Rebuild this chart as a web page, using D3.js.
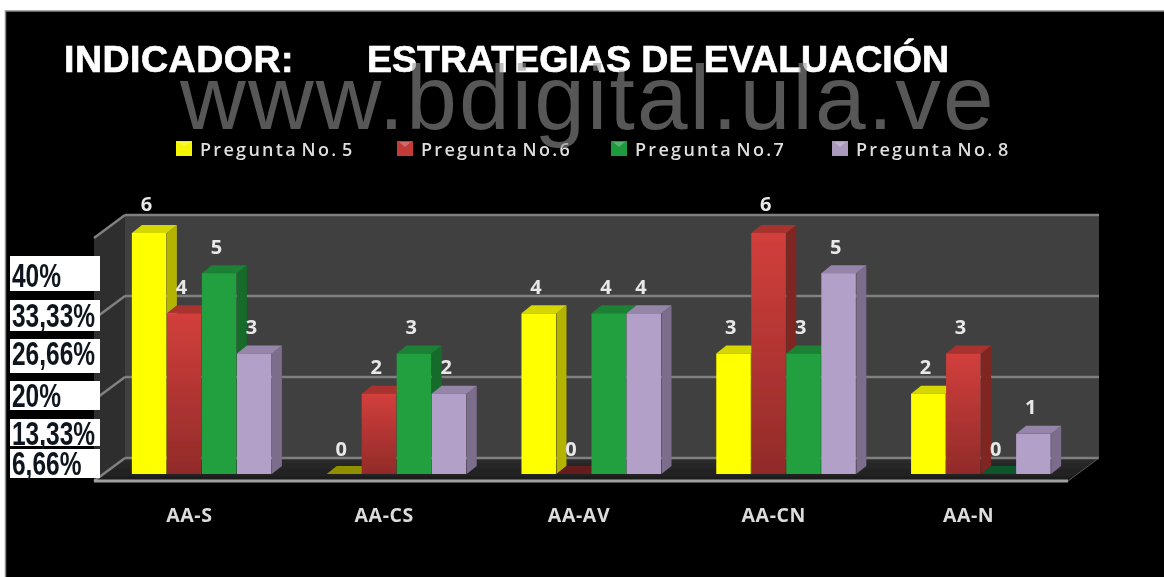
<!DOCTYPE html>
<html>
<head>
<meta charset="utf-8">
<script src="https://cdnjs.cloudflare.com/ajax/libs/d3/7.8.5/d3.min.js"></script>
<style>
html, body { margin: 0; padding: 0; background: #fff; overflow: hidden; }
svg { display: block; }
</style>
</head>
<body>
<script>
var categories = ["AA-S", "AA-CS", "AA-AV", "AA-CN", "AA-N"];
var seriesNames = ["Pregunta No. 5", "Pregunta No.6", "Pregunta No.7", "Pregunta No. 8"];
var pregunta5 = [6, 0, 4, 3, 2];
var pregunta6 = [4, 2, 0, 6, 3];
var pregunta7 = [5, 3, 4, 3, 0];
var pregunta8 = [3, 2, 4, 5, 1];
var yTicks = [0, 2, 4, 6];
var percentLabels = ["40%", "33,33%", "26,66%", "20%", "13,33%", "6,66%"];
var allSeries = [pregunta5, pregunta6, pregunta7, pregunta8];

var W = 1164, H = 577;
var svg = d3.select("body").append("svg").attr("width", W).attr("height", H);

// frame
svg.append("rect").attr("x", 5.5).attr("y", 11).attr("width", W).attr("height", H)
   .attr("fill", "#000").attr("stroke", "#8a8a8a").attr("stroke-width", 1.5);

var defs = svg.append("defs");
var blur = defs.append("filter").attr("id", "soft").attr("x", "-5%").attr("y", "-5%").attr("width", "110%").attr("height", "110%");
blur.append("feGaussianBlur").attr("stdDeviation", 0.7);

var redGrad = defs.append("linearGradient").attr("id", "redFront").attr("x1", 0).attr("y1", 0).attr("x2", 0).attr("y2", 1);
redGrad.append("stop").attr("offset", "0%").attr("stop-color", "#d23f3c");
redGrad.append("stop").attr("offset", "100%").attr("stop-color", "#912b29");
var floorGrad = defs.append("linearGradient").attr("id", "floorFill").attr("x1", 0).attr("y1", 0).attr("x2", 0).attr("y2", 1);
floorGrad.append("stop").attr("offset", "0%").attr("stop-color", "#2c2c2c");
floorGrad.append("stop").attr("offset", "100%").attr("stop-color", "#1c1c1c");

var frontColor = d3.scaleOrdinal().domain(seriesNames).range(["#ffff00", "url(#redFront)", "#21a041", "#b3a0c8"]);
var sideColor = d3.scaleOrdinal().domain(seriesNames).range(["#b3b300", "#7f2623", "#146b2b", "#7b6d8c"]);
var topColor = d3.scaleOrdinal().domain(seriesNames).range(["#d6d600", "#a8302d", "#1a8036", "#9585a8"]);
var zeroColor = d3.scaleOrdinal().domain(seriesNames).range(["#8f8f00", "#651c1b", "#11542a", "#6b5f7a"]);
var swatchColor = d3.scaleOrdinal().domain(seriesNames).range(["#f5f500", "#c23a38", "#1f9a3e", "#a898bc"]);

// y is read on the back wall, yBar on the front face of the bars
var y = d3.scaleLinear().domain([0, 6]).range([458, 215]);
var yBar = d3.scaleLinear().domain([0, 6]).range([474, 233]);
var x0 = d3.scaleBand().domain(categories).range([94, 1068]).paddingInner(0.281).paddingOuter(0.1405);
var x1 = d3.scaleBand().domain(seriesNames).range([0, x0.bandwidth()]);

var depthX = 31, depthY = 23;
var barDX = 10.5, barDepthX = 10, barDepthY = 8;

var chart = svg.append("g").attr("filter", "url(#soft)");

function poly(pts) { return pts.map(function(p) { return p.join(","); }).join(" "); }

var x = 94, xr = 1068, y0 = y(0), yTop = y(6);

// walls and floor
chart.append("polygon").attr("points", poly([[x + depthX, yTop], [xr + depthX, yTop], [xr + depthX, y0], [x + depthX, y0]])).attr("fill", "#414141");
chart.append("polygon").attr("points", poly([[x, yTop + depthY], [x + depthX, yTop], [x + depthX, y0], [x, y0 + depthY]])).attr("fill", "#2e2e2e");
chart.append("polygon").attr("points", poly([[x, y0 + depthY], [x + depthX, y0], [xr + depthX, y0], [xr, y0 + depthY]])).attr("fill", "url(#floorFill)");

// gridlines
var grid = chart.append("g").selectAll("g").data(yTicks).enter().append("g");
grid.append("line").attr("x1", x + depthX).attr("x2", xr + depthX)
    .attr("y1", function(d) { return y(d); }).attr("y2", function(d) { return y(d); })
    .attr("stroke", "#808080").attr("stroke-width", 2.5);
grid.append("line").attr("x1", x).attr("x2", x + depthX)
    .attr("y1", function(d) { return y(d) + depthY; }).attr("y2", function(d) { return y(d); })
    .attr("stroke", "#808080").attr("stroke-width", 2.5);
chart.append("line").attr("x1", x).attr("x2", xr).attr("y1", y0 + depthY).attr("y2", y0 + depthY)
     .attr("stroke", "#a0a0a0").attr("stroke-width", 3);
chart.append("line").attr("x1", xr).attr("x2", xr + depthX).attr("y1", y0 + depthY).attr("y2", y0)
     .attr("stroke", "#555").attr("stroke-width", 1);

// bars
var rows = [];
categories.forEach(function(c, ci) {
  seriesNames.forEach(function(s, si) {
    rows.push({cat: c, series: s, value: allSeries[si][ci]});
  });
});

var bars = chart.append("g").selectAll("g").data(rows).enter().append("g");

bars.each(function(d) {
  var g = d3.select(this);
  var bx = x0(d.cat) + x1(d.series) + barDX;
  var bw = x1.bandwidth();
  var base = yBar(0);
  var top = yBar(d.value);
  if (d.value === 0) {
    g.append("polygon")
     .attr("points", poly([[bx, base], [bx + barDepthX, base - barDepthY], [bx + bw + barDepthX, base - barDepthY], [bx + bw, base]]))
     .attr("fill", zeroColor(d.series));
    return;
  }
  g.append("polygon")
   .attr("points", poly([[bx + bw, top], [bx + bw + barDepthX, top - barDepthY], [bx + bw + barDepthX, base - barDepthY], [bx + bw, base]]))
   .attr("fill", sideColor(d.series));
  g.append("polygon")
   .attr("points", poly([[bx, top], [bx + barDepthX, top - barDepthY], [bx + bw + barDepthX, top - barDepthY], [bx + bw, top]]))
   .attr("fill", topColor(d.series));
  g.append("rect").attr("x", bx).attr("y", top).attr("width", bw - 0.5).attr("height", base - top)
   .attr("fill", frontColor(d.series));
});

// value labels
chart.append("g").selectAll("text").data(rows).enter().append("text")
  .attr("x", function(d) { return x0(d.cat) + x1(d.series) + barDX + x1.bandwidth() / 2 - 3; })
  .attr("y", function(d) { return yBar(d.value) - (d.value === 0 ? 18 : d.value === 6 ? 22 : 19.5); })
  .attr("text-anchor", "middle")
  .attr("font-family", "'Open Sans', sans-serif").attr("font-weight", 700).attr("font-size", 20)
  .attr("fill", "#e8e8e8")
  .text(function(d) { return d.value; });

// category axis
var axis = chart.append("g").attr("transform", "translate(-2,508)")
  .call(d3.axisBottom(x0).tickSize(0).tickPadding(0));
axis.select(".domain").remove();
axis.selectAll("text")
  .attr("font-family", "'Open Sans', sans-serif").attr("font-weight", 700).attr("font-size", 19.5)
  .attr("letter-spacing", 0.6)
  .attr("fill", "#dcdcdc");

// legend
var legendX = d3.scaleOrdinal().domain(seriesNames).range([176, 397, 611, 832]);
var legend = chart.append("g").selectAll("g").data(seriesNames).enter().append("g")
  .attr("transform", function(d) { return "translate(" + legendX(d) + ",141)"; });
legend.append("rect").attr("width", 16).attr("height", 15).attr("fill", function(d) { return swatchColor(d); });
legend.append("polygon").attr("points", "2,1 14,1 8,6").attr("fill", "#fff").attr("opacity", 0.25);
legend.append("text").attr("x", 24).attr("y", 15)
  .attr("font-family", "'Open Sans', sans-serif").attr("font-weight", 600).attr("font-size", 18)
  .attr("letter-spacing", 2.3).attr("word-spacing", -3.5)
  .attr("fill", "#dedede")
  .text(function(d) { return d; });

// title
var title = chart.append("g").attr("font-family", "'Liberation Sans', Arial, sans-serif").attr("font-weight", 700)
  .attr("font-size", 37.5).attr("fill", "#fff").attr("stroke", "#fff").attr("stroke-width", 0.7);
title.append("text").attr("x", 64).attr("y", 72).attr("letter-spacing", 0.5).text("INDICADOR:");
title.append("text").attr("x", 367).attr("y", 72).text("ESTRATEGIAS DE EVALUACIÓN");

// watermark
chart.append("text").attr("x", 180).attr("y", 129)
  .attr("font-family", "'Liberation Sans', Arial, sans-serif").attr("font-size", 91)
  .attr("letter-spacing", 2.2)
  .attr("fill", "#959595").attr("opacity", 0.59)
  .text("www.bdigital.ula.ve");

// pasted percent labels down the left side
var boxTops = [256, 300, 339, 381, 419, 449];
var boxBottoms = [291, 331, 373, 410, 446, 478];
var labelMid = [275, 315, 353, 395, 433, 463];
var labelBoxes = chart.append("g").selectAll("g").data(percentLabels).enter().append("g");
labelBoxes.append("rect").attr("x", 10).attr("width", 90)
  .attr("y", function(d, i) { return boxTops[i]; })
  .attr("height", function(d, i) { return boxBottoms[i] - boxTops[i]; })
  .attr("fill", "#fff");
labelBoxes.append("text")
  .attr("transform", function(d, i) { return "translate(12," + (labelMid[i] + 12) + ") scale(0.98,1.3)"; })
  .attr("font-family", "'Liberation Sans', sans-serif").attr("font-weight", 700).attr("font-size", 25)
  .attr("fill", "#10141f")
  .text(function(d) { return d; });
</script>
</body>
</html>
